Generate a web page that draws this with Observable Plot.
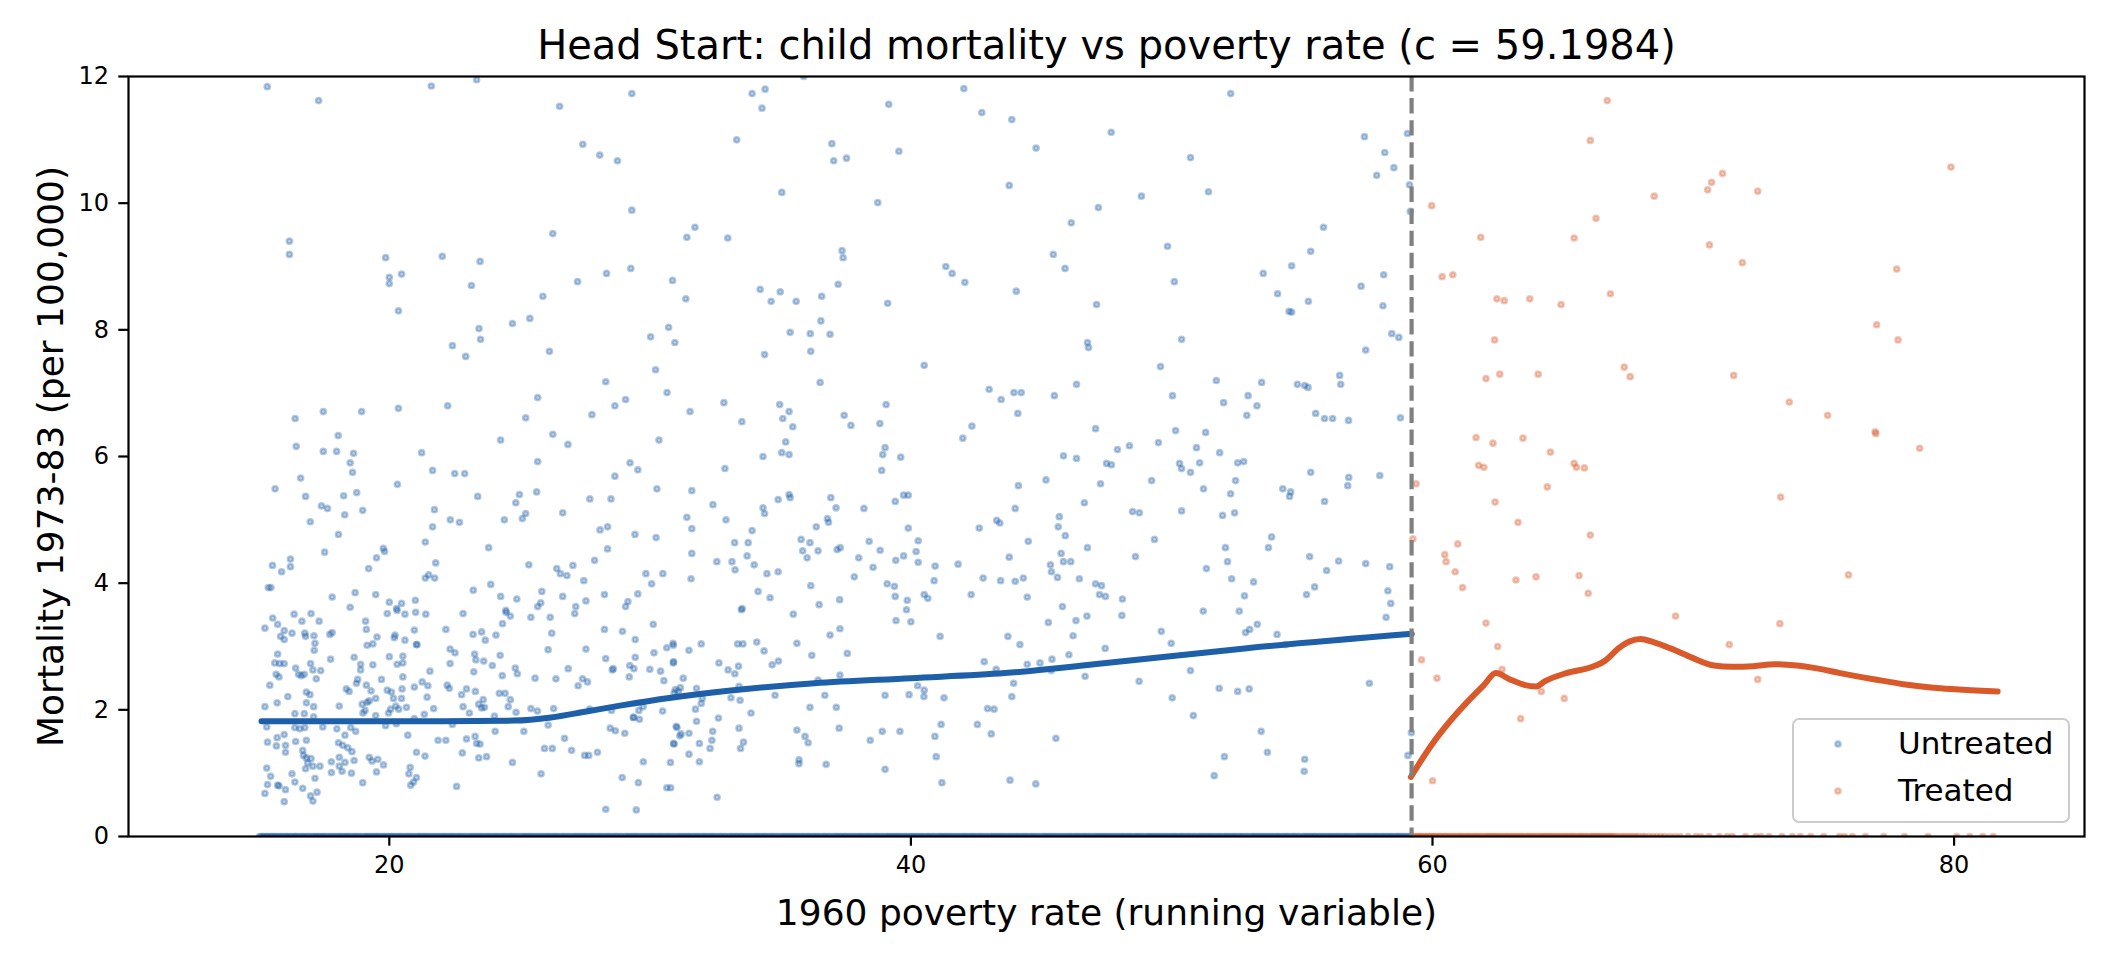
<!DOCTYPE html>
<html>
<head>
<meta charset="utf-8">
<script src="https://cdn.jsdelivr.net/npm/d3@7"></script>
<script src="https://cdn.jsdelivr.net/npm/@observablehq/plot@0.6"></script>
<style>
  html, body { margin: 0; padding: 0; background: white; }
  #chart { width: 2112px; height: 960px; }
</style>
</head>
<body>
<div id="chart"></div>
<script>
const titleText = "Head Start: child mortality vs poverty rate (c = 59.1984)";
const xLabel = "1960 poverty rate (running variable)";
const yLabel = "Mortality 1973-83 (per 100,000)";
const cutoff = 59.1984;
const xTicks = [20, 40, 60, 80];
const yTicks = [0, 2, 4, 6, 8, 10, 12];
const seriesNames = ["Untreated", "Treated"];

// untreated counties with positive mortality [poverty rate, mortality]
const untreated = [
[15.32,11.84],[17.29,11.62],[21.61,11.85],[23.35,11.95],[16.17,9.40],[16.17,9.19],[19.86,9.14],[20.0,8.83],[20.0,8.73],[20.47,8.88],[22.03,9.16],[23.48,9.08],[23.15,8.70],[20.35,8.30],[23.44,8.02],[23.5,7.85],[22.42,7.75],
[22.93,7.58],[16.39,6.60],[17.47,6.71],[18.94,6.71],[20.35,6.76],[22.24,6.80],[18.04,6.33],[16.43,6.16],[17.47,6.08],[17.98,6.08],[18.63,6.05],[18.5,5.90],[18.59,5.75],[21.24,6.06],[21.66,5.78],[22.51,5.73],[22.89,5.73],[16.6,5.66],[15.62,5.49],[20.31,5.56],[16.79,5.37],[18.25,5.38],[18.75,5.43],[23.39,5.37],[17.4,5.22],[17.63,5.18],[18.29,5.08],[18.98,5.15],[21.73,5.16],[16.97,4.97],[22.34,5.00],[22.69,4.96],[21.66,4.89],[18.05,4.77],[21.38,4.65],[17.52,4.49],[19.77,4.55],[19.82,4.50],[19.51,4.40],[16.21,4.38],[15.52,4.28],[16.21,4.26],[15.87,4.18],[19.21,4.23],[21.78,4.32],[21.51,4.13],[21.38,4.08],[21.74,4.08],[15.36,3.93],[15.46,3.93],[17.81,3.78],[18.69,3.85],[19.48,3.82],[23.22,3.89],[18.5,3.62],[20.0,3.70],[20.28,3.60],[20.47,3.68],[21.0,3.73],
[26.53,11.53],[29.3,11.73],[27.42,10.93],[28.07,10.76],[28.75,10.67],[29.3,9.89],[26.27,9.52],[31.41,9.46],[31.72,9.62],[32.98,9.45],[33.32,11.0],[33.91,11.73],[34.41,11.80],[34.29,11.5],[35.89,12.0],[35.05,10.17],[36.97,10.94],[37.04,10.67],[37.53,10.71],[27.22,8.76],[28.33,8.89],[29.26,8.97],[25.89,8.53],[24.72,8.10],[25.39,8.18],[30.86,8.78],[31.37,8.49],[30.02,7.89],[30.71,8.04],[30.95,7.80],[34.22,8.64],[34.64,8.45],[34.99,8.60],[35.6,8.45],[36.58,8.53],[37.21,8.72],[37.36,9.25],[37.4,9.14],[35.37,7.96],[36.14,7.94],[36.55,8.14],[36.9,7.93],
[26.14,7.66],[30.21,7.37],[34.39,7.61],[36.16,7.66],[36.52,7.17],[28.3,7.18],[25.69,6.93],[25.23,6.61],[28.65,6.80],[29.06,6.90],[30.65,7.01],[27.77,6.66],[31.53,6.71],[32.83,6.85],[33.52,6.55],[34.97,6.82],[35.33,6.71],[35.09,6.60],[35.47,6.47],[37.44,6.65],[37.7,6.49],[24.27,6.26],[26.27,6.35],[26.85,6.19],[30.34,6.26],[35.2,6.23],[34.33,6.0],[35.05,6.06],[35.33,6.03],[25.69,5.92],[29.23,5.90],[29.53,5.79],[28.65,5.69],[32.87,5.81],[24.99,5.40],[24.85,5.27],[25.65,5.44],[27.69,5.33],[28.5,5.33],[30.26,5.49],[31.6,5.46],[35.33,5.40],[35.37,5.35],[34.91,5.32],[36.93,5.35],[37.13,5.19],[38.2,5.18],[25.23,5.10],[25.1,5.02],[24.41,5.00],[26.65,5.11],[32.41,5.24],[34.33,5.19],[34.39,5.10],[31.41,5.04],[32.91,5.00],[31.6,4.86],[36.8,5.02],[36.84,4.96],[36.37,4.89],[28.08,4.84],[28.37,4.89],[29.42,4.77],[30.23,4.72],[33.91,4.83],[23.81,4.56],[28.37,4.54],[31.6,4.47],[33.24,4.64],[33.76,4.64],[33.72,4.43],[35.79,4.69],[36.13,4.64],[35.85,4.51],[36.02,4.40],[36.44,4.51],[37.17,4.53],[37.29,4.56],[38.4,4.66],[25.35,4.29],[27.87,4.36],[26.42,4.23],[26.56,4.15],[26.81,4.12],[27.04,4.28],[32.56,4.34],[33.14,4.34],[33.26,4.21],[33.99,4.29],[34.48,4.15],[34.91,4.18],[38.0,4.40],[37.83,4.10],[29.84,4.15],[30.49,4.15],[30.06,3.99],[31.57,4.07],[27.46,4.04],[23.89,3.98],[36.16,3.96],[24.27,3.79],[24.89,3.75],[25.85,3.87],[26.65,3.79],[28.25,3.82],[29.53,3.83],[34.14,3.87],[34.6,3.77],[37.27,3.74],[24.47,3.57],[25.69,3.63],[25.81,3.69],[27.15,3.63],[27.54,3.72],[29.06,3.63],[29.15,3.71],[33.53,3.60],[36.48,3.66],
[42.03,11.81],[39.15,11.56],[42.72,11.43],[43.87,11.32],[39.54,10.82],[44.8,10.87],[43.77,10.28],[38.73,10.01],[41.34,9.0],[41.58,8.89],[42.07,8.75],[44.04,8.61],[39.11,8.42],[40.51,7.44],[43.0,7.06],[43.46,6.90],[43.95,7.01],[44.23,7.01],[44.1,6.68],[39.05,6.82],[38.81,6.52],[42.34,6.48],[41.99,6.29],[39.01,6.14],[38.92,6.03],[39.61,5.99],[38.88,5.78],[44.12,5.54],[39.72,5.39],[39.9,5.39],[39.4,5.29],[44.0,5.18],[43.29,4.99],[43.41,4.95],[42.62,4.87],[39.9,4.87],[44.5,4.66],[38.82,4.52],[40.28,4.67],[40.2,4.50],[40.28,4.33],[39.72,4.43],[39.42,4.36],[38.55,4.25],[40.93,4.27],[41.81,4.30],[43.77,4.41],[42.77,4.08],[44.0,4.03],[44.31,4.08],[43.44,4.04],[40.89,4.04],[39.09,3.99],[39.37,3.95],[39.4,3.79],[39.86,3.73],[40.51,3.82],[40.65,3.76],[42.31,3.82],[44.46,3.78],
[52.26,11.73],[47.68,11.12],[50.72,10.72],[48.84,10.11],[51.41,10.18],[47.19,9.93],[46.15,9.69],[57.39,11.05],[58.17,10.80],[58.52,10.56],[57.86,10.44],[59.04,11.10],[59.12,10.29],[59.15,9.87],[55.82,9.62],[45.46,9.19],[45.91,8.97],[49.84,9.32],[50.1,8.76],[53.51,8.89],[54.6,9.01],[55.33,9.24],[54.06,8.57],[55.24,8.45],[54.6,8.28],[54.5,8.29],[57.26,8.69],[58.13,8.87],[58.1,8.38],[58.44,7.94],[58.71,7.88],[47.12,8.40],[46.77,7.80],[50.38,7.85],
[46.81,7.72],[57.44,7.68],[49.57,7.42],[46.35,7.14],[45.5,6.96],[51.71,7.20],[53.45,7.17],[50.03,6.96],[51.99,6.85],[52.93,6.96],[53.27,6.80],[52.88,6.65],[54.82,7.14],[55.1,7.12],[55.23,7.09],[56.44,7.28],[56.48,7.14],[55.52,6.68],[55.86,6.60],[56.17,6.60],[56.78,6.57],[58.77,6.61],[47.08,6.44],[50.15,6.41],[51.3,6.38],[47.92,6.11],[48.38,6.17],[49.49,6.22],[50.95,6.14],[51.84,6.06],[45.85,6.01],[46.35,5.97],[47.5,5.89],[47.69,5.87],[50.3,5.89],[50.38,5.81],[51.07,5.90],[50.72,5.75],[52.53,5.90],[52.76,5.92],[55.33,5.75],[56.79,5.67],[56.75,5.54],[57.98,5.70],[45.18,5.63],[47.27,5.57],[49.23,5.62],[51.22,5.49],[52.45,5.62],[52.26,5.41],[54.26,5.49],[54.56,5.44],[54.52,5.37],[55.86,5.29],[46.65,5.27],[45.69,5.05],[45.65,4.89],[45.92,4.75],[48.5,5.13],[48.76,5.11],[50.38,5.14],[51.95,5.07],[52.41,5.11],[49.34,4.69],[53.83,4.73],[53.71,4.56],[52.06,4.56],[45.76,4.47],[46.77,4.56],[48.61,4.42],[45.35,4.29],[45.39,4.18],[45.85,4.34],[46.13,4.34],[45.62,4.09],[46.46,4.07],[51.33,4.23],[52.14,4.34],[52.3,4.07],[53.14,4.02],[55.29,4.42],[56.4,4.35],[55.94,4.20],[57.44,4.31],[58.36,4.26],[55.48,3.94],[55.17,3.82],[58.29,3.88],[58.4,3.68],[47.08,3.99],[47.31,3.96],[47.23,3.82],[47.46,3.79],[48.11,3.75],[52.79,3.80],[45.81,3.63],
[15.23,3.29],[15.53,3.45],[15.72,3.35],[15.97,3.25],[15.83,3.16],[16.27,3.21],[16.35,3.51],[16.65,3.40],[16.76,3.21],[17.0,3.52],[17.11,3.17],[17.31,3.40],[17.72,3.19],[17.81,3.22],[17.75,2.80],[17.15,3.05],[17.12,2.94],[16.79,3.16],[15.97,3.11],[19.09,3.40],[19.12,3.27],[19.53,3.15],[19.15,3.02],[19.37,3.04],[19.92,3.52],[20.3,3.57],[20.6,3.51],[21.01,3.54],[21.4,3.51],[20.96,3.26],[20.22,3.18],[20.19,3.14],[20.6,3.10],[21.06,3.03],[22.17,3.27],[22.83,3.52],[23.21,3.19],[23.54,3.23],[23.68,3.10],[24.09,3.18],[24.48,3.54],[24.64,3.48],[24.34,3.36],[25.43,3.46],[26.17,3.46],[26.23,3.21],[27.11,3.52],[28.25,3.27],[28.94,3.24],[29.43,3.11],[30.12,3.35],[26.09,2.95],[27.54,2.96],
[15.72,2.88],[15.61,2.74],[15.8,2.73],[15.97,2.73],[15.66,2.56],[15.77,2.52],[15.42,2.39],[15.23,2.05],[15.7,2.11],[16.11,2.21],[16.41,2.66],[16.52,2.56],[16.63,2.54],[16.74,2.56],[16.98,2.73],[17.07,2.63],[17.2,2.49],[17.37,2.62],[16.82,2.28],[16.96,2.24],[17.1,2.05],[16.82,2.11],[16.38,1.94],[16.74,1.94],[17.1,1.89],[18.08,2.06],[18.65,2.83],[18.9,2.72],[18.9,2.63],[19.37,2.71],[18.79,2.48],[18.74,2.42],[19.12,2.39],[19.3,2.30],[19.48,2.18],[18.35,2.33],[18.46,2.29],[18.96,2.09],[19.15,2.12],[19.23,2.14],[19.07,1.99],[18.99,1.95],[19.48,1.91],[19.7,2.48],[19.92,2.31],[20.0,2.84],[20.3,2.72],[20.52,2.85],[20.52,2.74],[20.52,2.52],[20.49,2.33],[20.08,2.28],[20.16,2.18],[20.25,2.06],[20.05,2.01],[20.36,2.01],[19.97,1.95],[20.47,2.18],[20.66,2.04],[20.96,2.36],[21.26,2.44],[21.48,2.38],[21.45,2.20],[21.56,2.61],[21.04,3.03],[21.7,2.02],[21.34,1.93],[20.96,1.86],[22.22,2.39],[22.3,2.34],[22.33,2.73],[22.33,2.96],[22.52,2.90],[22.96,2.33],[22.77,2.24],[22.83,2.05],[23.3,2.29],[23.24,2.60],[23.27,2.88],[23.32,2.79],[23.62,2.77],[23.95,2.70],[24.25,2.86],[24.33,2.54],[24.22,2.26],[24.44,2.26],[24.64,2.16],[23.6,2.16],[23.43,2.09],[23.54,2.03],[23.65,2.04],[23.07,1.95],[24.03,1.90],[24.56,2.05],[24.86,1.96],[24.83,2.66],[24.91,2.57],[25.43,2.02],[25.68,1.98],[25.59,2.50],[26.3,2.02],[26.39,2.49],[26.86,2.65],[27.24,2.38],[27.41,2.49],[27.6,2.44],[27.68,2.01],[28.3,2.81],[28.59,2.65],[28.55,2.63],[29.22,2.70],[29.38,2.65],[29.2,2.52],[29.43,2.83],[29.99,2.64],[30.4,2.61],[30.15,2.90],[30.64,2.98],[30.89,3.02],[30.89,2.74],[30.53,2.46],[30.92,2.27],[31.08,2.29],[30.48,1.98],[29.57,1.99],[28.52,1.99],[29.38,1.88],[29.59,1.85],[29.73,2.05],
[15.3,1.73],[15.33,1.49],[15.7,1.56],[15.67,1.43],[15.97,1.61],[16.02,1.44],[16.02,1.33],[16.41,1.50],[16.38,1.72],[16.57,1.70],[16.76,1.72],[16.82,1.52],[16.68,1.36],[16.71,1.28],[16.82,1.24],[17.0,1.23],[16.87,1.16],[16.79,1.07],[17.07,1.11],[17.34,1.11],[17.45,1.73],[17.99,1.70],[18.3,1.60],[18.05,1.48],[18.22,1.44],[18.41,1.40],[18.57,1.34],[18.52,1.72],[18.71,1.66],[18.08,1.25],[18.3,1.17],[18.08,1.11],[17.78,1.18],[17.78,1.01],[18.19,1.03],[18.55,1.00],[18.65,1.20],[19.23,1.25],[19.34,1.19],[19.56,1.22],[19.78,1.13],[19.51,1.02],[19.86,1.75],[20.27,1.78],[20.71,1.60],[21.04,1.33],[21.37,1.27],[20.8,1.09],[20.75,0.99],[21.04,0.93],[20.93,0.86],[20.82,0.81],[18.98,0.85],[22.58,0.79],[21.87,1.52],[22.17,1.52],[22.42,1.77],[22.8,1.32],[22.96,1.54],[23.29,1.58],[23.35,1.47],[23.48,1.46],[23.43,1.24],[23.73,1.26],[24.06,1.66],[24.72,1.17],[25.16,1.66],[25.82,0.99],[25.95,1.39],[26.25,1.39],[26.09,1.76],[26.72,1.55],[26.99,1.36],[27.49,1.28],[27.65,1.28],[27.98,1.33],[28.47,1.71],[28.67,1.67],[29.03,1.63],[29.35,1.88],[29.74,1.18],[28.93,0.93],[29.55,0.85],[30.78,1.17],[30.64,0.77],[28.3,0.43],[29.47,0.42],[30.92,1.46],[31.03,1.72],[31.14,1.59],[15.23,0.68],[15.33,0.82],[15.45,0.95],[15.3,1.08],[15.72,0.81],[15.77,0.80],[16.02,0.74],[15.97,0.55],[16.27,0.99],[16.38,0.86],[16.68,0.76],[17.15,0.92],[16.98,0.64],[17.07,0.56],[17.23,0.70],
[33.5,3.58],[35.49,3.51],[30.88,3.05],[30.9,2.76],[31.49,2.94],[31.96,3.04],[31.27,2.50],[31.16,2.35],[30.97,2.32],[31.78,2.34],[32.0,2.18],[31.96,2.10],[31.74,2.01],[31.78,1.82],[31.0,1.74],[31.19,1.62],[31.49,1.63],[30.9,1.47],[31.89,1.47],[31.49,1.30],[31.89,1.18],[30.79,0.77],[32.57,0.62],[32.3,1.39],[32.37,1.52],[32.4,1.66],[32.62,1.87],[32.64,2.74],[32.99,2.63],[33.25,2.57],[33.39,2.69],[33.36,3.04],[33.56,3.04],[34.09,3.07],[34.37,2.93],[33.41,2.37],[33.1,2.19],[33.45,2.15],[33.87,1.95],[33.41,1.71],[33.58,1.49],[33.47,1.39],[34.68,2.71],[34.92,2.77],[34.79,2.23],[35.63,3.05],[36.2,2.86],[36.44,2.47],[36.7,2.23],[36.13,2.04],[37.14,2.04],[35.63,1.68],[35.94,1.58],[36.06,1.48],[37.25,1.71],[35.71,1.21],[35.71,1.15],[36.75,1.14],[36.9,3.18],[37.28,3.28],[37.56,2.89],[37.28,2.55],[38.44,1.52],[38.9,1.66],[39.58,1.66],[39.01,1.06],[39.01,2.23],[39.93,2.24],[40.26,2.38],[40.51,2.31],[40.5,2.21],[41.27,2.19],[39.43,3.41],[40.0,3.39],[39.83,3.58],[41.12,3.16],[41.16,1.77],[40.92,1.58],[40.97,1.26],[41.19,0.85],[42.55,1.77],[42.81,2.76],[42.94,2.02],[43.19,2.01],[43.08,1.62],[43.27,2.64],[43.72,3.16],[44.18,3.03],[43.94,2.42],[43.87,2.21],[44.46,2.72],[44.95,2.74],[45.41,2.80],[45.38,2.62],[45.27,3.38],[46.33,3.41],[46.75,3.48],[46.22,3.17],[46.06,2.87],[46.68,2.53],[47.45,2.97],[48.09,3.49],[45.56,1.55],[43.8,0.89],[44.79,0.83],[48.75,2.45],[49.6,3.24],[49.98,3.05],[50.02,2.19],[50.72,2.62],[50.83,1.91],[51.21,3.56],[51.82,2.34],[52.53,2.29],[52.97,2.33],[52.59,3.56],[52.83,3.22],[52.99,3.27],[53.28,3.35],[54.04,3.19],[54.37,3.03],[52.02,1.26],[51.63,0.96],[53.43,1.66],[53.67,1.33],[55.1,1.22],[55.08,1.03],[57.58,2.42],[58.22,3.46],[59.19,1.64],[59.06,1.28]
];

// untreated counties with zero recorded mortality (poverty rate only)
const untreatedZeroText = `
15.02 15.08 15.15 15.2 15.28 15.33 15.4 15.47 15.52 15.6 15.66 15.73 15.8 15.86 15.93
16.0 16.07 16.12 16.2 16.26 16.33 16.4 16.45 16.53 16.6 16.67 16.72 16.8 16.87 16.93
17.02 17.08 17.15 17.2 17.28 17.33 17.4 17.47 17.52 17.6 17.66 17.73 17.8 17.86 17.93
18.0 18.07 18.12 18.2 18.26 18.33 18.4 18.45 18.53 18.6 18.67 18.72 18.8 18.87 18.93
19.02 19.08 19.15 19.2 19.28 19.33 19.4 19.47 19.52 19.6 19.66 19.73 19.8 19.86 19.93
20.0 20.07 20.12 20.2 20.26 20.33 20.4 20.45 20.53 20.6 20.67 20.72 20.8 20.87 20.93
21.02 21.08 21.15 21.2 21.28 21.33 21.4 21.47 21.52 21.6 21.66 21.73 21.8 21.86 21.93
22.0 22.07 22.12 22.2 22.26 22.33 22.4 22.45 22.53 22.6 22.67 22.72 22.8 22.87 22.93
23.02 23.08 23.15 23.2 23.28 23.33 23.4 23.47 23.52 23.6 23.66 23.73 23.8 23.86 23.93
24.0 24.07 24.12 24.2 24.26 24.33 24.4 24.45 24.53 24.6 24.67 24.72 24.8 24.87 24.93
25.02 25.08 25.15 25.2 25.28 25.33 25.4 25.47 25.52 25.6 25.66 25.73 25.8 25.86 25.93
26.0 26.07 26.12 26.2 26.26 26.33 26.4 26.45 26.53 26.6 26.67 26.72 26.8 26.87 26.93
27.02 27.08 27.15 27.2 27.28 27.33 27.4 27.47 27.52 27.6 27.66 27.73 27.8 27.86 27.93
28.0 28.07 28.12 28.2 28.26 28.33 28.4 28.45 28.53 28.6 28.67 28.72 28.8 28.87 28.93
29.02 29.08 29.15 29.2 29.28 29.33 29.4 29.47 29.52 29.6 29.66 29.73 29.8 29.86 29.93
30.0 30.07 30.12 30.2 30.26 30.33 30.4 30.45 30.53 30.6 30.67 30.72 30.8 30.87 30.93
31.02 31.08 31.15 31.2 31.28 31.33 31.4 31.47 31.52 31.6 31.66 31.73 31.8 31.86 31.93
32.0 32.07 32.12 32.2 32.26 32.33 32.4 32.45 32.53 32.6 32.67 32.72 32.8 32.87 32.93
33.02 33.08 33.15 33.2 33.28 33.33 33.4 33.47 33.52 33.6 33.66 33.73 33.8 33.86 33.93
34.0 34.07 34.12 34.2 34.26 34.33 34.4 34.45 34.53 34.6 34.67 34.72 34.8 34.87 34.93
35.02 35.08 35.15 35.2 35.28 35.33 35.4 35.47 35.52 35.6 35.66 35.73 35.8 35.86 35.93
36.0 36.07 36.12 36.2 36.26 36.33 36.4 36.45 36.53 36.6 36.67 36.72 36.8 36.87 36.93
37.02 37.08 37.15 37.2 37.28 37.33 37.4 37.47 37.52 37.6 37.66 37.73 37.8 37.86 37.93
38.0 38.07 38.12 38.2 38.26 38.33 38.4 38.45 38.53 38.6 38.67 38.72 38.8 38.87 38.93
39.02 39.08 39.15 39.2 39.28 39.33 39.4 39.47 39.52 39.6 39.66 39.73 39.8 39.86 39.93
40.0 40.07 40.12 40.2 40.26 40.33 40.4 40.45 40.53 40.6 40.67 40.72 40.8 40.87 40.93
41.02 41.08 41.15 41.2 41.28 41.33 41.4 41.47 41.52 41.6 41.66 41.73 41.8 41.86 41.93
42.0 42.07 42.12 42.2 42.26 42.33 42.4 42.45 42.53 42.6 42.67 42.72 42.8 42.87 42.93
43.02 43.08 43.15 43.2 43.28 43.33 43.4 43.47 43.52 43.6 43.66 43.73 43.8 43.86 43.93
44.0 44.07 44.12 44.2 44.26 44.33 44.4 44.45 44.53 44.6 44.67 44.72 44.8 44.87 44.93
45.02 45.08 45.15 45.2 45.28 45.33 45.4 45.47 45.52 45.6 45.66 45.73 45.8 45.86 45.93
46.0 46.07 46.12 46.2 46.26 46.33 46.4 46.45 46.53 46.6 46.67 46.72 46.8 46.87 46.93
47.02 47.08 47.15 47.2 47.28 47.33 47.4 47.47 47.52 47.6 47.66 47.73 47.8 47.86 47.93
48.0 48.07 48.12 48.2 48.26 48.33 48.4 48.45 48.53 48.6 48.67 48.72 48.8 48.87 48.93
49.02 49.08 49.15 49.2 49.28 49.33 49.4 49.47 49.52 49.6 49.66 49.73 49.8 49.86 49.93
50.0 50.07 50.12 50.2 50.26 50.33 50.4 50.45 50.53 50.6 50.67 50.72 50.8 50.87 50.93
51.02 51.08 51.15 51.2 51.28 51.33 51.4 51.47 51.52 51.6 51.66 51.73 51.8 51.86 51.93
52.0 52.07 52.12 52.2 52.26 52.33 52.4 52.45 52.53 52.6 52.67 52.72 52.8 52.87 52.93
53.02 53.08 53.15 53.2 53.28 53.33 53.4 53.47 53.52 53.6 53.66 53.73 53.8 53.86 53.93
54.0 54.07 54.12 54.2 54.26 54.33 54.4 54.45 54.53 54.6 54.67 54.72 54.8 54.87 54.93
55.02 55.08 55.15 55.2 55.28 55.33 55.4 55.47 55.52 55.6 55.66 55.73 55.8 55.86 55.93
56.0 56.07 56.12 56.2 56.26 56.33 56.4 56.45 56.53 56.6 56.67 56.72 56.8 56.87 56.93
57.02 57.08 57.15 57.2 57.28 57.33 57.4 57.47 57.52 57.6 57.66 57.73 57.8 57.86 57.93
58.0 58.07 58.12 58.2 58.26 58.33 58.4 58.45 58.53 58.6 58.67 58.72 58.8 58.87 58.93
59.02 59.08 59.15
`;
const untreatedZero = untreatedZeroText.trim().split(/\s+/).map(Number);

// treated counties with positive mortality
const treated = [
[66.7,11.62],[66.05,10.99],[79.88,10.57],[71.12,10.47],[70.7,10.33],[70.55,10.21],[72.47,10.19],[68.5,10.11],[59.97,9.96],[66.27,9.76],[61.85,9.46],[65.43,9.45],[70.62,9.34],[71.88,9.06],[77.8,8.96],[60.37,8.84],[60.78,8.87],[62.47,8.49],[62.75,8.46],[63.73,8.49],[64.93,8.40],[66.82,8.57],[77.03,8.08],[77.85,7.84],[62.38,7.84],[62.05,7.23],[62.58,7.30],[64.05,7.30],[67.35,7.41],[67.58,7.26],[71.55,7.28],[73.68,6.86],[75.15,6.65],[76.97,6.39],[77.0,6.36],[78.68,6.13],[61.67,6.30],[62.32,6.21],[63.47,6.29],[64.52,6.07],[61.77,5.86],[61.97,5.83],[65.43,5.89],[65.52,5.83],[65.82,5.82],[59.37,5.57],[64.4,5.52],[73.35,5.36],[62.4,5.28],[63.28,4.96],[66.05,4.76],[59.25,4.70],[60.97,4.62],[60.47,4.45],[60.52,4.34],[60.87,4.18],[61.15,3.93],[63.2,4.05],[63.97,4.10],[65.62,4.12],[65.97,3.84],[75.95,4.13],[69.32,3.48],[73.32,3.36],[62.05,3.37],[62.5,3.0],[71.38,3.03],[59.58,2.79],[62.67,2.64],[60.17,2.50],[64.17,2.29],[65.05,2.18],[72.47,2.48],[63.38,1.86],[60.0,0.88]
];

const treatedZeroText = `
59.25 59.3 59.38 59.45 59.5 59.57 59.63 59.7 59.77 59.83 59.9 59.96
60.02 60.08 60.15 60.2 60.28 60.33 60.4 60.47 60.52 60.6 60.66 60.73 60.8 60.86 60.93
61.0 61.07 61.12 61.2 61.26 61.33 61.4 61.45 61.53 61.6 61.67 61.72 61.8 61.87 61.93
62.02 62.08 62.15 62.2 62.28 62.33 62.4 62.47 62.52 62.6 62.66 62.73 62.8 62.86 62.93
63.0 63.07 63.12 63.2 63.26 63.33 63.4 63.45 63.53 63.6 63.67 63.72 63.8 63.87 63.93
64.02 64.08 64.15 64.2 64.28 64.33 64.4 64.47 64.52 64.6 64.66 64.73 64.8 64.86 64.93
65.0 65.07 65.12 65.2 65.26 65.33 65.4 65.45 65.53 65.6 65.67 65.72 65.8 65.87 65.93
66.02 66.08 66.15 66.2 66.28 66.33 66.4 66.47 66.52 66.6 66.66 66.73 66.8 66.86 66.93
67.0 67.1 67.2 67.3 67.4 67.5 67.6 67.7 67.8 67.9
68.05 68.15 68.3 68.45 68.6 68.75 68.9
69.1 69.3 69.5 69.8 70.1 70.3 70.6 71.0 71.3 71.5 72.0 72.4 72.6 72.9 73.4 73.8 74.1
74.5 75.0 75.6 75.8 76.1 76.6 77.3 78.1 79.0 80.1 80.6 81.1 81.5
`;
const treatedZero = treatedZeroText.trim().split(/\s+/).map(Number);

// local fits on each side of the cutoff
const fitUntreated = [[15.1,1.82],[17,1.82],[20,1.82],[22,1.82],[24.8,1.83],[26.2,1.88],[27.5,1.97],[28.9,2.07],[30.8,2.19],[33,2.3],[36.3,2.42],[40,2.5],[43.6,2.58],[47.3,2.73],[52.8,2.97],[59.2,3.2]];
const fitTreated = [[59.17,0.94],[59.97,1.45],[60.63,1.80],[61.3,2.11],[61.97,2.39],[62.43,2.58],[62.97,2.48],[63.55,2.39],[63.97,2.37],[64.3,2.45],[65.13,2.58],[66.13,2.68],[66.63,2.78],[67.13,2.97],[67.55,3.08],[67.97,3.12],[68.47,3.07],[69.13,2.97],[69.97,2.82],[70.8,2.70],[71.47,2.68],[72.3,2.69],[73.13,2.72],[73.97,2.70],[74.8,2.65],[75.63,2.58],[76.97,2.48],[78.13,2.40],[79.47,2.34],[80.63,2.31],[81.67,2.29]];

const BLUE = "#1d5fa8";
const ORANGE = "#d9592b";
const FONT = "DejaVu Sans";
const DOT_R = 2.6;
const DOT_SW = 2.5;
const FILL_OP = 0.3;
const STROKE_OP = 0.33;

const dotStyle = (color) => ({
  r: DOT_R, fill: color, fillOpacity: FILL_OP, stroke: color, strokeOpacity: STROKE_OP, strokeWidth: DOT_SW, clip: true
});

const svg = Plot.plot({
  width: 2112,
  height: 960,
  marginTop: 76,
  marginBottom: 124,
  marginLeft: 128,
  marginRight: 28,
  style: { fontFamily: FONT, background: "white", color: "black", overflow: "visible" },
  x: { domain: [10, 85] },
  y: { domain: [0, 12] },
  marks: [
    Plot.dot(untreated, { x: d => d[0], y: d => d[1], ...dotStyle(BLUE) }),
    Plot.dot(untreatedZero, { x: d => d, y: () => 0, ...dotStyle(BLUE) }),
    Plot.dot(treated, { x: d => d[0], y: d => d[1], ...dotStyle(ORANGE) }),
    Plot.dot(treatedZero, { x: d => d, y: () => 0, ...dotStyle(ORANGE) }),
    Plot.line(fitUntreated, { x: d => d[0], y: d => d[1], stroke: BLUE, strokeWidth: 6, curve: "monotone-x" }),
    Plot.line(fitTreated, { x: d => d[0], y: d => d[1], stroke: ORANGE, strokeWidth: 6, curve: "monotone-x" }),
    Plot.ruleX([cutoff], { stroke: "#808080", strokeWidth: 4.2, strokeDasharray: "15.4,6.7" }),
    Plot.frame({ stroke: "black", strokeWidth: 2.2 }),
    Plot.axisX({ ticks: xTicks, tickSize: 9.7, tickPadding: 9.3, fontSize: 24, strokeWidth: 2.2, label: null, tickFormat: d => String(d) }),
    Plot.axisY({ ticks: yTicks, tickSize: 9.7, tickPadding: 9.7, fontSize: 24, strokeWidth: 2.2, label: null, tickFormat: d => String(d) }),
    Plot.text([titleText], { text: d => d, frameAnchor: "top", dy: -18, lineAnchor: "bottom", textAnchor: "middle", fontSize: 40, fill: "black" }),
    Plot.text([xLabel], { text: d => d, frameAnchor: "bottom", dy: 88, lineAnchor: "bottom", textAnchor: "middle", fontSize: 36, fill: "black" }),
    Plot.text([yLabel], { text: d => d, frameAnchor: "left", dx: -66, rotate: -90, lineAnchor: "bottom", textAnchor: "middle", fontSize: 36, fill: "black" })
  ]
});

// legend (matplotlib-style box in the lower right)
const lg = d3.select(svg).append("g").attr("font-family", FONT).attr("text-anchor", "start");
lg.append("rect").attr("x", 1793).attr("y", 719).attr("width", 276).attr("height", 103)
  .attr("rx", 6).attr("fill", "white").attr("fill-opacity", 0.8)
  .attr("stroke", "#cccccc").attr("stroke-width", 2);
[BLUE, ORANGE].forEach((c, i) => {
  const cy = 744 + i * 47;
  lg.append("circle").attr("cx", 1838).attr("cy", cy).attr("r", DOT_R)
    .attr("fill", c).attr("fill-opacity", FILL_OP).attr("stroke", c).attr("stroke-opacity", STROKE_OP).attr("stroke-width", DOT_SW);
  lg.append("text").attr("x", 1898).attr("y", cy + 10).attr("font-size", 31).attr("fill", "black")
    .attr("text-anchor", "start").text(seriesNames[i]);
});

document.getElementById("chart").appendChild(svg);
</script>
</body>
</html>
